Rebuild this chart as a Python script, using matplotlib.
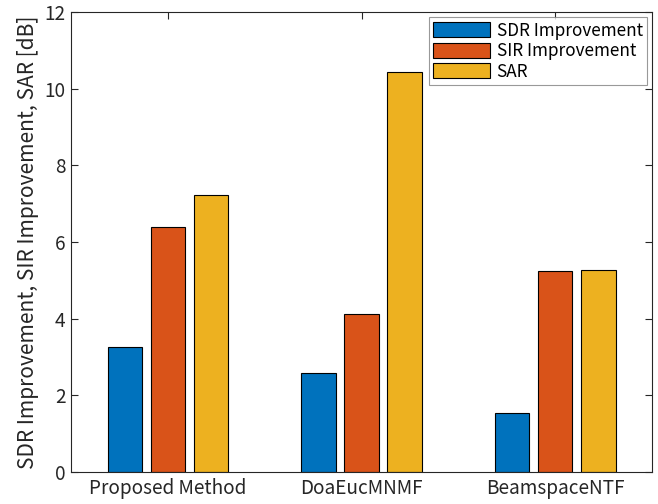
import matplotlib.pyplot as plt
import numpy as np

plt.rcParams['font.family'] = ['Noto Sans CJK JP', 'DejaVu Sans']

methods = ['Proposed Method', 'DoaEucMNMF', 'BeamspaceNTF']
series = ['SDR Improvement', 'SIR Improvement', 'SAR']
sdr_imp = [3.25, 2.59, 1.53]
sir_imp = [6.38, 4.11, 5.24]
sar = [7.23, 10.44, 5.27]
colors = ['#0072BD', '#D95319', '#EDB120']

axis_col = '#262626'
tick_fs = 13.7

fig = plt.figure(figsize=(6.58, 5.04), dpi=100)
ax = fig.add_axes([0.108, 0.0635, 0.883, 0.9125])

x = np.arange(1, len(methods) + 1)
offset = 0.2222
width = 0.178
for i, (vals, lab) in enumerate(zip([sdr_imp, sir_imp, sar], series)):
    ax.bar(x + (i - 1) * offset, vals, width, color=colors[i],
           edgecolor='black', linewidth=0.8, label=lab, zorder=2)

ax.set_xlim(0.5, 3.5)
ax.set_ylim(0, 12)
ax.set_yticks(np.arange(0, 13, 2))
ax.set_xticks(x)
ax.set_xticklabels(methods)
ax.set_ylabel('SDR Improvement, SIR Improvement, SAR [dB]', fontsize=tick_fs * 1.1,
              color=axis_col, labelpad=4)

ax.tick_params(direction='in', top=True, right=True, length=5, width=0.8,
               colors=axis_col, labelsize=tick_fs, pad=4)
for s in ax.spines.values():
    s.set_color(axis_col)
    s.set_linewidth(0.8)

leg = ax.legend(loc='upper right', fontsize=tick_fs * 0.9, frameon=True, fancybox=False,
                handlelength=3.3, handleheight=1.0, borderaxespad=0.3,
                labelspacing=0.15, handletextpad=0.4, borderpad=0.25)
leg.get_frame().set_edgecolor('#808080')
leg.get_frame().set_linewidth(0.8)

fig.savefig('out.png', dpi=100)
